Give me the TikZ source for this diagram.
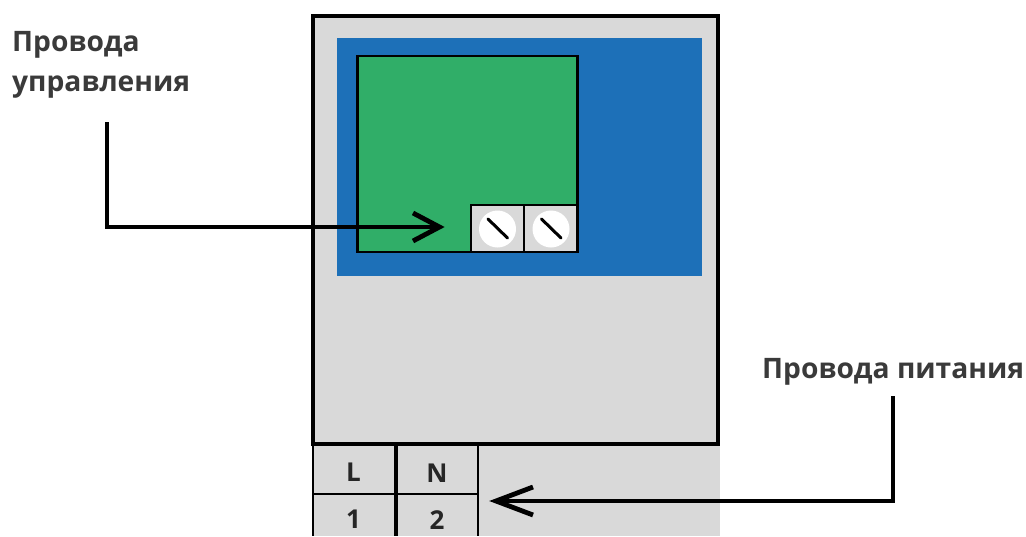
\documentclass[tikz,border=0pt]{standalone}
\usepackage{fontspec}
\setmainfont{Open Sans}
\definecolor{panel}{HTML}{D9D9D9}
\definecolor{bluebg}{HTML}{1D70B8}
\definecolor{greenbd}{HTML}{30AE68}
\definecolor{labeltx}{HTML}{3A3A3A}
\tikzset{
  thick line/.style={draw=black,line width=4.4pt},
  thin line/.style={draw=black,line width=2.6pt},
  leader/.style={draw=black,line width=3.1pt},
  tipline/.style={draw=black,line width=4.8pt},
  labeltext/.style={font=\bfseries\fontsize{28.2}{40}\selectfont,text=labeltx,inner sep=0pt,anchor=base west,align=left},
  celltext/.style={font=\bfseries\fontsize{26}{26}\selectfont,text=black!85,inner sep=0pt},
  screw/.style={circle,fill=white,minimum size=37pt,inner sep=0pt},
}
\begin{document}
\begin{tikzpicture}[x=1pt,y=-1pt]
\useasboundingbox (0,0) rectangle (1026,536);
\fill[white] (0,0) rectangle (1026,536);
% lower panel
\fill[panel] (313,444) rectangle (720,536);
% main body
\filldraw[fill=panel,thick line] (313,16) rectangle (718,444);
\fill[bluebg] (337,38) rectangle (702,276);
\filldraw[fill=greenbd,thin line] (357.5,56) rectangle (577.5,252);
% terminals
\filldraw[fill=panel,thin line] (471,205) rectangle (524,252);
\filldraw[fill=panel,thin line] (524,205) rectangle (577.5,252);
\node[screw] (s1) at (497.5,229) {};
\node[screw] (s2) at (551,229) {};
\draw[draw=black,line width=3pt,line cap=round] (488,219) -- (507.5,238);
\draw[draw=black,line width=3pt,line cap=round] (541.5,219) -- (561,238);
% table
\draw[thin line] (313,445) -- (313,536);
\draw[thin line] (478,445) -- (478,536);
\draw[thick line] (396,445) -- (396,536);
\draw[thin line] (313,494) -- (478,494);
\node[celltext] (cL) at (353.5,472) {L};
\node[celltext] (cN) at (437,473) {N};
\node[celltext] (c1) at (353.5,519) {1};
\node[celltext] (c2) at (437,520) {2};
% labels
\node[labeltext] (t1) at (12,51) {Провода};
\node[labeltext] (t2) at (12,91) {управления};
\node[labeltext] (t3) at (762,378) {Провода питания};
% connectors
\coordinate (a1s) at (107,122);
\coordinate (a1c) at (107,227);
\coordinate (a1e) at (439.5,227);
\coordinate (a1u) at (413,213);
\coordinate (a1d) at (413,241);
\draw[leader] (a1s) -- (a1c) -- (a1e);
\draw[tipline,miter limit=10] (a1u) -- (a1e) -- (a1d);
\coordinate (a2s) at (893,396);
\coordinate (a2c) at (893,501);
\coordinate (a2e) at (496,501);
\coordinate (a2u) at (533,487);
\coordinate (a2d) at (533,515);
\draw[leader] (a2s) -- (a2c) -- (a2e);
\draw[tipline,miter limit=10] (a2u) -- (a2e) -- (a2d);
\end{tikzpicture}
\end{document}
